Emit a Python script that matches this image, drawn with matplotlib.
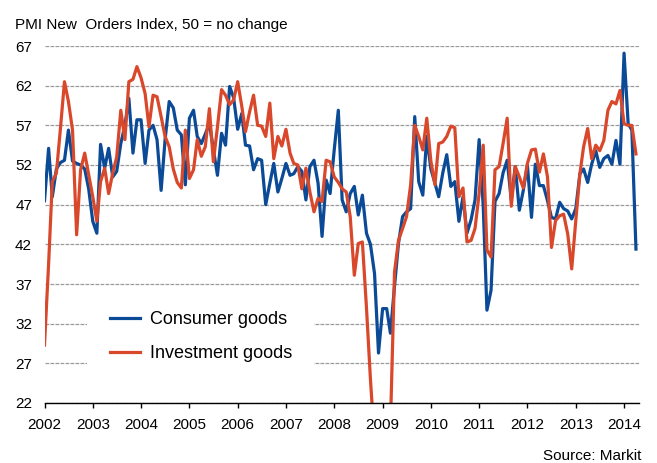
import matplotlib
import matplotlib.pyplot as plt
import pandas as pd

matplotlib.use("Agg")

# Monthly PMI new orders, Jan 2002 - Apr 2014
consumer_goods = [
    47.5, 54.1, 48.0, 51.5, 52.3, 52.6, 56.4, 52.5, 52.2, 52.0, 51.5, 49.0,
    44.9, 43.4, 54.6, 51.6, 54.1, 50.5, 51.2, 54.7, 57.0, 60.4, 53.5, 57.7,
    57.7, 52.2, 56.4, 57.0, 55.2, 48.8, 55.2, 60.0, 59.2, 56.4, 55.8, 49.5,
    57.9, 58.9, 55.6, 54.7, 55.9, 57.2, 54.0, 50.7, 56.0, 54.5, 61.9, 60.5,
    56.5, 58.5, 54.5, 54.4, 51.4, 52.8, 52.6, 47.0, 49.7, 52.2, 48.6, 50.3,
    52.2, 50.7, 50.9, 51.8, 51.2, 47.6, 51.8, 52.6, 49.7, 43.0, 50.1, 48.4,
    53.9, 58.9, 47.6, 46.1, 48.4, 49.3, 45.7, 48.2, 43.4, 42.0, 38.3, 28.3,
    33.9, 33.9, 30.8, 36.7, 42.1, 45.5, 46.1, 46.5, 58.1, 49.9, 48.2, 55.6,
    51.5, 49.7, 48.0, 51.0, 53.3, 49.3, 49.9, 44.9, 48.0, 43.4, 45.1, 47.6,
    55.2, 46.8, 33.7, 36.2, 47.4, 48.4, 51.0, 52.6, 47.6, 51.8, 46.3, 48.8,
    52.0, 45.4, 52.1, 49.4, 49.4, 47.5, 45.4, 45.2, 47.3, 46.5, 46.2, 45.2,
    46.5, 50.9, 51.5, 49.8, 52.1, 53.8, 51.7, 52.8, 53.2, 52.1, 55.1, 52.1,
    66.1, 57.2, 56.4, 41.4,
]
investment_goods = [
    29.3, 39.5, 49.9, 51.0, 56.5, 62.5, 60.0, 56.4, 43.2, 51.4, 53.5, 50.8,
    48.0, 44.9, 49.9, 51.6, 48.4, 51.0, 53.0, 58.9, 55.2, 62.5, 62.8, 64.4,
    63.0, 61.0, 56.8, 60.8, 60.6, 58.1, 55.6, 54.3, 51.5, 49.8, 49.1, 56.4,
    50.3, 51.4, 55.2, 53.1, 54.3, 59.1, 52.4, 56.8, 61.5, 60.8, 59.6, 60.2,
    62.5, 59.4, 56.2, 58.7, 60.8, 57.0, 56.9, 55.6, 59.8, 52.8, 55.6, 54.4,
    56.5, 53.5, 52.2, 52.0, 49.0, 51.6, 48.6, 46.1, 47.8, 47.4, 52.6, 52.4,
    50.5, 49.8, 49.0, 48.6, 45.5, 38.1, 42.1, 42.3, 34.0, 25.0, 17.0, 15.0,
    15.0, 16.0, 19.0, 38.5, 42.5, 44.0, 45.5, 49.5, 57.0, 55.6, 53.9, 57.9,
    52.5, 49.5, 54.7, 54.9, 55.6, 56.9, 56.7, 48.0, 49.1, 42.3, 42.5, 44.0,
    48.4, 54.5, 41.3, 40.4, 51.4, 51.8, 54.7, 57.9, 46.8, 51.8, 50.5, 49.1,
    52.2, 53.9, 54.0, 51.1, 53.4, 50.5, 41.6, 45.0, 45.6, 45.8, 43.3, 38.9,
    45.0, 50.9, 54.3, 56.6, 52.8, 54.5, 53.8, 55.1, 58.9, 60.0, 59.7, 61.4,
    57.2, 57.0, 57.0, 53.4,
]
months = pd.date_range("2002-01-01", periods=len(consumer_goods), freq="MS")
year_ticks = pd.date_range("2002-01-01", "2014-01-01", freq="YS")
y_ticks = [22, 27, 32, 37, 42, 47, 52, 57, 62, 67]

plt.rcParams["font.family"] = ["Liberation Sans", "DejaVu Sans"]

W, H = 657, 463
fig = plt.figure(figsize=(W / 100, H / 100), dpi=100)
ax = fig.add_axes([44.5 / W, 1 - 403 / H, (639 - 44.5) / W, 357 / H])

ax.plot(months, consumer_goods, color="#0b4a96", linewidth=2.3, label="Consumer goods")
ax.plot(months, investment_goods, color="#d9482b", linewidth=2.3, label="Investment goods")

ax.set_ylim(22, 67)
ax.set_xlim(pd.Timestamp("2002-01-01"), pd.Timestamp("2014-04-24"))
ax.set_yticks(y_ticks)
ax.set_xticks(year_ticks)
ax.set_xticklabels([str(d.year) for d in year_ticks])

ax.grid(axis="y", color="#9a9a9a", linewidth=0.9, linestyle=(0, (3, 1)))
ax.grid(axis="x", visible=False)
ax.set_axisbelow(True)
for side in ["left", "right", "top"]:
    ax.spines[side].set_visible(False)
ax.spines["bottom"].set_color("black")
ax.spines["bottom"].set_linewidth(1.0)
ax.spines["bottom"].set_zorder(5)

ax.tick_params(axis="x", direction="out", length=3.6, width=1, labelsize=11, pad=7)
ax.tick_params(axis="y", length=0, labelsize=11, pad=9)

ax.legend(
    loc="upper left",
    bbox_to_anchor=(0.0715, 0.32),
    borderaxespad=0,
    fontsize=13,
    frameon=True,
    facecolor="white",
    edgecolor="none",
    framealpha=1,
    fancybox=False,
    handlelength=1.67,
    handletextpad=0.55,
    borderpad=1.25,
    labelspacing=0.92,
)

fig.text(15 / W, 1 - 25 / H, "PMI New  Orders Index, 50 = no change", fontsize=11, va="center", ha="left")
fig.text(641 / W, 1 - 456 / H, "Source: Markit", fontsize=11, va="center", ha="right")

fig.savefig("out.png", dpi=100)
